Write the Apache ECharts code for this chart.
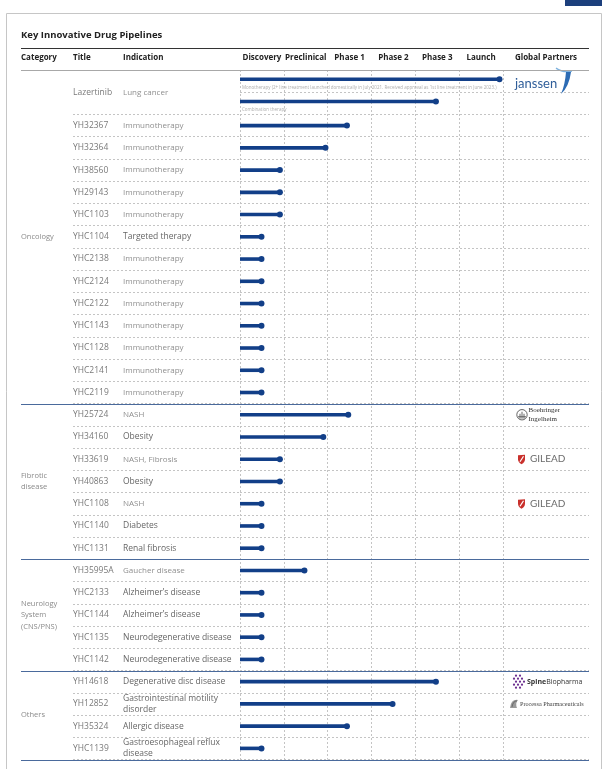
<!DOCTYPE html>
<html><head><meta charset="utf-8">
<script src="https://cdn.jsdelivr.net/npm/echarts@6/dist/echarts.min.js"></script>
<style>html,body{margin:0;padding:0;background:#fff}#c{width:611px;height:769px}</style>
</head><body><div id="c"></div><script>
// ---------------- data ----------------
const stages = ['Discovery', 'Preclinical', 'Phase 1', 'Phase 2', 'Phase 3', 'Launch'];
// one entry per table row; '' = continuation row of the drug above
const titles = ['Lazertinib', '', 'YH32367', 'YH32364', 'YH38560', 'YH29143', 'YHC1103', 'YHC1104', 'YHC2138', 'YHC2124',
  'YHC2122', 'YHC1143', 'YHC1128', 'YHC2141', 'YHC2119', 'YH25724', 'YH34160', 'YH33619', 'YH40863', 'YHC1108',
  'YHC1140', 'YHC1131', 'YH35995A', 'YHC2133', 'YHC1144', 'YHC1135', 'YHC1142', 'YH14618', 'YH12852', 'YH35324', 'YHC1139'];
const indications = ['Lung cancer', '', 'Immunotherapy', 'Immunotherapy', 'Immunotherapy', 'Immunotherapy', 'Immunotherapy',
  'Targeted therapy', 'Immunotherapy', 'Immunotherapy', 'Immunotherapy', 'Immunotherapy', 'Immunotherapy', 'Immunotherapy',
  'Immunotherapy', 'NASH', 'Obesity', 'NASH, Fibrosis', 'Obesity', 'NASH', 'Diabetes', 'Renal fibrosis', 'Gaucher disease',
  'Alzheimer’s disease', 'Alzheimer’s disease', 'Neurodegenerative disease', 'Neurodegenerative disease',
  'Degenerative disc disease', 'Gastrointestinal motility\ndisorder', 'Allergic disease', 'Gastroesophageal reflux\ndisease'];
// progress in stage units (0 = start of Discovery, 6 = end of Launch)
const progress = [5.92, 4.47, 2.44, 1.95, 0.91, 0.91, 0.91, 0.49, 0.49, 0.49, 0.49, 0.49, 0.49, 0.49, 0.49,
  2.47, 1.9, 0.91, 0.91, 0.49, 0.49, 0.49, 1.47, 0.49, 0.49, 0.49, 0.49, 4.47, 3.48, 2.44, 0.49];
const notes = ['Monotherapy (2+ line treatment launched domestically in July 2021. Received approval as 1st line treatment in June 2023.)',
  'Combination therapy'];
const categories = ['Oncology', 'Fibrotic\ndisease', 'Neurology\nSystem\n(CNS/PNS)', 'Others'];
const categoryRows = [15, 7, 5, 4];
const partnerTitles = ['Lazertinib', 'YH25724', 'YH33619', 'YHC1108', 'YH14618', 'YH12852'];
const partnerNames = ['janssen', 'Boehringer Ingelheim', 'GILEAD', 'GILEAD', 'SpineBiopharma', 'Processa Pharmaceuticals'];

// ---------------- layout / style ----------------
const ROWS = titles.length;
const TOP = 70, BOTTOM = 9.5;
const FONT = '"Open Sans", "Noto Sans", sans-serif';
const SERIF = '"Liberation Serif", "DejaVu Serif", serif';
const BAR = '#123f88';
const dash = { type: [2, 2], color: '#c4c4c4', width: 1 };
const lightInd = ['Lung cancer', 'Immunotherapy', 'NASH', 'NASH, Fibrosis', 'Gaucher disease'];

// derived row centres
const drugRows = [];
titles.forEach((t, i) => {
  if (t === '') return;
  let span = 1;
  while (i + span < ROWS && titles[i + span] === '') span++;
  drugRows.push({ i, center: i + span / 2 });
});
const boundaries = [[0, 0, 0]];
let acc = 0;
const catData = [];
categoryRows.forEach((n, k) => {
  catData.push([0, acc + n / 2, k]);
  acc += n;
  boundaries.push([0, acc, 1]);
});

const rowAxis = (gi) => ({ type: 'value', gridIndex: gi, min: 0, max: ROWS, inverse: true, show: false });
const hideAx = { axisLine: { show: false }, axisTick: { show: false }, axisLabel: { show: false } };
const headLabel = { margin: 12, verticalAlign: 'middle', fontSize: 8, fontWeight: 'bold', color: '#222', fontFamily: FONT, interval: 0 };

function txt(x, y, text, o) {
  return { type: 'text', x, y, style: Object.assign({ text, fill: '#777', fontSize: 8.5, fontFamily: FONT,
    align: 'left', verticalAlign: 'middle', lineHeight: 11 }, o || {}) };
}

function partnerLogo(name, x0, y) {
  const ch = [];
  if (name === 'janssen') {
    ch.push(txt(x0 + 12, y + 3, 'janssen', { fill: '#2e5d99', fontSize: 13, fontFamily: 'Lato, ' + FONT }));
    ch.push({ type: 'path', shape: { pathData: `M${x0+53} ${y-13} Q${x0+60} ${y-8} ${x0+69} ${y-10}` },
      style: { fill: 'none', stroke: '#7fb2de', lineWidth: 1.3 } });
    ch.push({ type: 'path', shape: { pathData: `M${x0+63} ${y-9} L${x0+68} ${y-9} Q${x0+66} ${y+6} ${x0+58} ${y+13} Q${x0+62} ${y+4} ${x0+63} ${y-9} Z` },
      style: { fill: '#2c6bb4' } });
  } else if (name === 'Boehringer Ingelheim') {
    ch.push({ type: 'circle', shape: { cx: x0 + 19, cy: y, r: 5.2 }, style: { fill: 'none', stroke: '#555', lineWidth: 0.9 } });
    ch.push({ type: 'path', shape: { pathData: `M${x0+17} ${y+4} L${x0+17} ${y-1} M${x0+19} ${y+4} L${x0+19} ${y-3} M${x0+21} ${y+4} L${x0+21} ${y-1} M${x0+15} ${y+2} L${x0+23} ${y+2}` },
      style: { fill: 'none', stroke: '#555', lineWidth: 0.9 } });
    ch.push(txt(x0 + 25.5, y, 'Boehringer\nIngelheim', { fill: '#333', fontSize: 7, lineHeight: 8.5, fontFamily: SERIF }));
  } else if (name === 'GILEAD') {
    ch.push({ type: 'path', shape: { pathData: `M${x0+15} ${y-4} L${x0+22} ${y-4.5} L${x0+22} ${y} Q${x0+22} ${y+3} ${x0+18.5} ${y+5} Q${x0+15} ${y+3} ${x0+15} ${y} Z` },
      style: { fill: '#c9302c' } });
    ch.push({ type: 'line', shape: { x1: x0 + 17, y1: y + 2.5, x2: x0 + 20.5, y2: y - 3 }, style: { stroke: '#fff', lineWidth: 1.2 } });
    ch.push(txt(x0 + 27, y, 'GILEAD', { fill: '#6b6b6b', fontSize: 10, fontFamily: 'Lato, ' + FONT }));
  } else if (name === 'SpineBiopharma') {
    const pts = [[3, -6], [7, -6], [1, -3], [5, -3], [9, -3], [3, 0], [7, 0], [11, 0], [1, 3], [5, 3], [9, 3], [3, 6], [7, 6]];
    pts.forEach(p => ch.push({ type: 'circle', shape: { cx: x0 + 10 + p[0], cy: y + p[1], r: 1.1 }, style: { fill: '#6a2c8e' } }));
    ch.push(txt(x0 + 24, y, '{b|Spine}Biopharma', { fill: '#333', fontSize: 7, rich: { b: { fontWeight: 'bold', fontSize: 7, fontFamily: FONT, fill: '#333' } } }));
  } else if (name === 'Processa Pharmaceuticals') {
    ch.push({ type: 'path', shape: { pathData: `M${x0+7} ${y+4} Q${x0+8} ${y-5} ${x0+15} ${y-4} Q${x0+12} ${y-1} ${x0+14} ${y+4} Z` },
      style: { fill: '#9a9a9a' } });
    ch.push({ type: 'path', shape: { pathData: `M${x0+9} ${y+3} Q${x0+10} ${y-3} ${x0+14} ${y-3}` },
      style: { fill: 'none', stroke: '#555', lineWidth: 0.7 } });
    ch.push(txt(x0 + 17, y, 'Processa Pharmaceuticals', { fill: '#444', fontSize: 6.2, fontFamily: SERIF }));
  }
  return ch;
}

const option = {
  animation: false,
  grid: [
    { left: 21, right: 22, top: TOP, bottom: BOTTOM },
    { left: 73, width: 167, top: TOP, bottom: BOTTOM },
    { left: 123, width: 117, top: TOP, bottom: BOTTOM },
    { left: 240, right: 22, top: TOP, bottom: BOTTOM },
    { left: 240, width: 263, top: TOP, bottom: BOTTOM },
    { left: 503, right: 22, top: TOP, bottom: BOTTOM }
  ],
  xAxis: [
    { type: 'value', gridIndex: 0, min: 0, max: 1, show: false },
    { type: 'value', gridIndex: 1, min: 0, max: 1, show: false },
    { type: 'value', gridIndex: 2, min: 0, max: 1, show: false },
    { type: 'value', gridIndex: 3, min: 0, max: 1, show: false },
    Object.assign({ type: 'value', gridIndex: 4, min: 0, max: stages.length, interval: 1,
      splitLine: { show: true, lineStyle: dash } }, hideAx),
    { type: 'category', gridIndex: 4, data: stages, position: 'top', axisLine: { show: false }, axisTick: { show: false },
      splitLine: { show: false }, axisLabel: headLabel },
    { type: 'category', gridIndex: 5, data: ['Global Partners'], position: 'top', axisLine: { show: false }, axisTick: { show: false },
      splitLine: { show: false }, axisLabel: headLabel }
  ],
  yAxis: [
    rowAxis(0),
    Object.assign({ type: 'category', gridIndex: 1, data: titles.map((t, i) => 'r' + i), inverse: true,
      splitLine: { show: true, interval: (i) => titles[i] !== '', lineStyle: dash } }, hideAx),
    rowAxis(1),
    rowAxis(2),
    Object.assign({ type: 'value', gridIndex: 3, min: 0, max: ROWS, interval: 1, inverse: true,
      splitLine: { show: true, lineStyle: dash } }, hideAx),
    rowAxis(4),
    rowAxis(5)
  ],
  graphic: [
    { type: 'rect', shape: { x: 6.5, y: 13.5, width: 595, height: 770 }, style: { fill: 'none', stroke: '#c6c6c6', lineWidth: 1 } },
    { type: 'rect', shape: { x: 565, y: 0, width: 37, height: 6 }, style: { fill: '#1c3f7c' } },
    { type: 'text', x: 21, y: 35, style: { text: 'Key Innovative Drug Pipelines', fill: '#222', fontSize: 9.5, fontWeight: 'bold', fontFamily: FONT, verticalAlign: 'middle' } },
    { type: 'line', shape: { x1: 21, y1: 48.5, x2: 589, y2: 48.5 }, style: { stroke: '#333', lineWidth: 1.1 } },
    { type: 'text', x: 21, y: 58, style: { text: 'Category', fill: '#222', fontSize: 8, fontWeight: 'bold', fontFamily: FONT, verticalAlign: 'middle' } },
    { type: 'text', x: 73, y: 58, style: { text: 'Title', fill: '#222', fontSize: 8, fontWeight: 'bold', fontFamily: FONT, verticalAlign: 'middle' } },
    { type: 'text', x: 123, y: 58, style: { text: 'Indication', fill: '#222', fontSize: 8, fontWeight: 'bold', fontFamily: FONT, verticalAlign: 'middle' } }
  ],
  series: [
    { // header + group separators
      type: 'custom', xAxisIndex: 0, yAxisIndex: 0, z: 5, silent: true, data: boundaries,
      renderItem: (params, api) => {
        const cs = params.coordSys;
        const y = Math.round(api.coord([0, api.value(1)])[1]) + 0.5;
        const isHead = api.value(2) === 0;
        return { type: 'line', shape: { x1: cs.x, y1: y, x2: cs.x + cs.width, y2: y },
          style: { stroke: isHead ? '#a8a8a8' : '#4a6a9c', lineWidth: 1 } };
      }
    },
    { // category labels
      type: 'custom', xAxisIndex: 0, yAxisIndex: 0, silent: true, data: catData,
      renderItem: (params, api) => {
        const p = api.coord([0, api.value(1)]);
        return txt(p[0], p[1], categories[api.value(2)], { fill: '#8a8a8a', fontSize: 7.5, lineHeight: 11.5 });
      }
    },
    { // titles
      type: 'custom', xAxisIndex: 1, yAxisIndex: 2, silent: true, data: drugRows.map(d => [0, d.center, d.i]),
      renderItem: (params, api) => {
        const p = api.coord([0, api.value(1)]);
        return txt(p[0], p[1], titles[api.value(2)], { fill: '#7a7a7a', fontSize: 8.5 });
      }
    },
    { // indications
      type: 'custom', xAxisIndex: 2, yAxisIndex: 3, silent: true, data: drugRows.map(d => [0, d.center, d.i]),
      renderItem: (params, api) => {
        const p = api.coord([0, api.value(1)]);
        const t = indications[api.value(2)];
        const light = lightInd.indexOf(t) >= 0;
        return txt(p[0], p[1], t, light ? { fill: '#8f8f8f', fontSize: 8 } : { fill: '#666', fontSize: 8.5 });
      }
    },
    { // pipeline bars
      type: 'custom', xAxisIndex: 4, yAxisIndex: 5, z: 4, silent: true,
      data: progress.map((v, i) => [v, i + 0.5, i]),
      renderItem: (params, api) => {
        const i = api.value(2);
        const note = notes[i] || '';
        const s = api.coord([0, api.value(1)]);
        const e = api.coord([api.value(0), api.value(1)]);
        const y = s[1] + (note ? -1.8 : 0);
        const ch = [
          { type: 'line', shape: { x1: s[0], y1: y, x2: e[0], y2: y }, style: { stroke: BAR, lineWidth: 3.6 } },
          { type: 'circle', shape: { cx: e[0], cy: y, r: 3 }, style: { fill: BAR } }
        ];
        if (note) ch.push(txt(s[0] + 2, y + 8, note, { fill: '#adadad', fontSize: 4.5 }));
        return { type: 'group', children: ch };
      }
    },
    { // partners
      type: 'custom', xAxisIndex: 6, yAxisIndex: 6, silent: true,
      data: partnerTitles.map((t, k) => [0, titles.indexOf(t) + 0.5, k]),
      renderItem: (params, api) => {
        const y = api.coord([0, api.value(1)])[1];
        return { type: 'group', children: partnerLogo(partnerNames[api.value(2)], params.coordSys.x, y) };
      }
    }
  ]
};
const chart = echarts.init(document.getElementById('c'));
chart.setOption(option);
</script></body></html>
